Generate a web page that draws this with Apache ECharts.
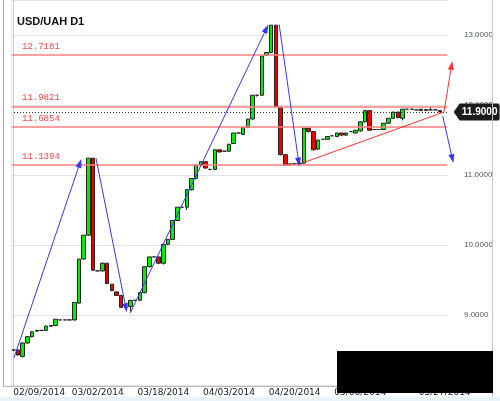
<!DOCTYPE html>
<html><head><meta charset="utf-8">
<script src="https://cdn.jsdelivr.net/npm/echarts@6/dist/echarts.min.js"></script>
<style>html,body{margin:0;padding:0;background:#fff}#c{width:500px;height:401px}</style>
</head><body><div id="c"></div>
<script>
// ---- data ----
const categories = [
 '02/09/2014','02/10/2014','02/11/2014','02/12/2014','02/13/2014','02/14/2014',
 '02/16/2014','02/17/2014','02/18/2014','02/19/2014','02/20/2014','02/21/2014',
 '02/23/2014','02/24/2014','02/25/2014','02/26/2014','02/27/2014','02/28/2014',
 '03/02/2014','03/03/2014','03/04/2014','03/05/2014','03/06/2014','03/07/2014',
 '03/09/2014','03/10/2014','03/11/2014','03/12/2014','03/13/2014','03/14/2014',
 '03/16/2014','03/17/2014','03/18/2014','03/19/2014','03/20/2014','03/21/2014',
 '03/23/2014','03/24/2014','03/25/2014','03/26/2014','03/27/2014','03/28/2014',
 '03/30/2014','03/31/2014','04/01/2014','04/02/2014','04/03/2014','04/04/2014',
 '04/06/2014','04/07/2014','04/08/2014','04/09/2014','04/10/2014','04/11/2014',
 '04/13/2014','04/14/2014','04/15/2014','04/16/2014','04/17/2014','04/18/2014',
 '04/20/2014','04/21/2014','04/22/2014','04/23/2014','04/24/2014','04/25/2014',
 '04/27/2014','04/28/2014','04/29/2014','04/30/2014','05/01/2014','05/02/2014',
 '05/04/2014','05/05/2014','05/06/2014','05/07/2014','05/08/2014','05/09/2014',
 '05/11/2014','05/12/2014','05/13/2014','05/14/2014','05/15/2014','05/16/2014',
 '05/18/2014','05/19/2014','05/20/2014','05/21/2014','05/22/2014','05/23/2014',
 '05/25/2014','05/26/2014','05/27/2014'
];
const tickLabels = ['02/09/2014','03/02/2014','03/18/2014','04/03/2014','04/20/2014','05/06/2014','05/27/2014'];

const open = [8.50,8.50,8.41,8.60,8.69,8.77,8.78,8.78,8.84,8.85,8.93,8.93,8.93,8.93,9.17,9.80,10.14,11.24,9.63,9.63,
 9.74,9.44,9.33,9.28,9.11,9.12,9.21,9.21,9.32,9.69,9.83,9.83,9.74,10.01,10.08,10.35,10.54,10.54,10.79,10.95,
 11.14,11.19,11.08,11.08,11.36,11.34,11.34,11.45,11.60,11.58,11.68,11.80,12.14,12.14,12.71,12.75,13.14,11.97,11.29,11.14,
 11.16,11.16,11.17,11.67,11.62,11.37,11.51,11.51,11.56,11.55,11.60,11.57,11.62,11.60,11.63,11.76,11.92,11.65,11.65,11.65,
 11.74,11.81,11.90,11.81,11.94,11.94,11.93,11.94,11.92,11.93,11.93,11.92];
const close = [8.50,8.43,8.60,8.69,8.76,8.78,8.78,8.84,8.85,8.94,8.93,8.93,8.93,9.18,9.80,10.14,11.24,9.64,9.63,9.74,
 9.45,9.35,9.28,9.11,9.11,9.21,9.21,9.32,9.69,9.83,9.83,9.74,10.01,10.08,10.35,10.54,10.54,10.79,10.95,11.14,
 11.19,11.10,11.08,11.36,11.33,11.34,11.44,11.60,11.60,11.68,11.80,12.14,12.14,12.70,12.75,13.14,11.98,11.29,11.14,11.16,
 11.16,11.17,11.67,11.62,11.36,11.50,11.51,11.55,11.56,11.60,11.57,11.60,11.62,11.64,11.76,11.92,11.64,11.65,11.65,11.74,
 11.81,11.90,11.82,11.94,11.94,11.94,11.93,11.92,11.935,11.93,11.93,11.90];
const low = [8.49,8.42,8.39,8.59,8.68,8.76,8.78,8.77,8.84,8.84,8.93,8.93,8.93,8.92,9.16,9.79,10.13,9.63,9.63,9.62,
 9.44,9.34,9.27,9.10,9.10,9.05,9.21,9.20,9.31,9.68,9.83,9.73,9.72,10.00,10.07,10.34,10.54,10.50,10.78,10.94,
 11.13,11.09,11.08,11.07,11.32,11.34,11.33,11.44,11.60,11.57,11.67,11.79,12.12,12.13,12.70,12.74,11.97,11.28,11.13,11.13,
 11.16,11.16,11.16,11.61,11.35,11.36,11.51,11.50,11.56,11.54,11.56,11.56,11.62,11.59,11.62,11.75,11.63,11.65,11.65,11.64,
 11.73,11.80,11.81,11.78,11.94,11.94,11.93,11.92,11.92,11.93,11.93,11.90];
const high = [8.50,8.51,8.61,8.70,8.77,8.79,8.78,8.85,8.85,8.94,8.93,8.93,8.93,9.18,9.80,10.14,11.24,11.24,9.63,9.75,
 9.74,9.44,9.33,9.28,9.11,9.21,9.21,9.32,9.69,9.83,9.83,9.83,10.01,10.08,10.35,10.54,10.54,10.79,10.95,11.14,
 11.19,11.19,11.08,11.36,11.36,11.34,11.44,11.60,11.60,11.68,11.80,12.14,12.14,12.70,12.75,13.14,13.14,11.97,11.29,11.16,
 11.16,11.17,11.67,11.67,11.62,11.50,11.51,11.55,11.56,11.60,11.60,11.60,11.62,11.64,11.76,11.92,11.92,11.65,11.65,11.74,
 11.81,11.90,11.90,11.94,11.94,11.94,11.93,11.94,11.94,11.976,11.93,11.92];

const levels = [12.7181, 11.9821, 11.6854, 11.1394];
const levelLabels = ['12.7181', '11.9821', '11.6854', '11.1394'];
const currentPrice = 11.90;
const currentPriceLabel = '11.9000';
const yMin = 8, yMax = 13.5, yStep = 1;

// overlay drawings in (bar index, price) space: [x1, y1, x2, y2]
const blueArrows = [
  [0.14, 8.39, 14.5, 11.23],
  [17.63, 11.24, 24.2, 9.04],
  [24.95, 9.03, 54.4, 13.15],
  [56.7, 13.15, 61.0, 11.12],
  [91.6, 11.84, 93.85, 11.17]
];
const redArrows = [[91.86, 11.90, 93.63, 12.63]];
const trendLines = [[61.85, 11.176, 91.86, 11.90]];

// ---- chart ----
const candleData = open.map((o, i) => [o, close[i], low[i], high[i]]);

function arrowRender(color, head) {
  return function (params, api) {
    const p1 = api.coord([api.value(0), api.value(1)]);
    const p2 = api.coord([api.value(2), api.value(3)]);
    const dx = p2[0] - p1[0], dy = p2[1] - p1[1];
    const len = Math.hypot(dx, dy) || 1;
    const ux = dx / len, uy = dy / len;
    const L = head ? 9 : 0, W = 3;
    const children = [{
      type: 'line',
      shape: { x1: p1[0], y1: p1[1], x2: p2[0] - ux * L * 0.5, y2: p2[1] - uy * L * 0.5 },
      style: { stroke: color, lineWidth: 1 }
    }];
    if (head) {
      const bx = p2[0] - ux * L, by = p2[1] - uy * L;
      children.push({
        type: 'polygon',
        shape: { points: [[p2[0], p2[1]], [bx - uy * W, by + ux * W], [bx + uy * W, by - ux * W]] },
        style: { fill: color }
      });
    }
    return { type: 'group', children };
  };
}
function overlaySeries(data, color, head) {
  return {
    type: 'custom', xAxisIndex: 1, yAxisIndex: 0, clip: false, silent: true, z: 5,
    dimensions: ['x1', 'y1', 'x2', 'y2'],
    encode: { x: [0, 2], y: [1, 3] },
    renderItem: arrowRender(color, head),
    data: data
  };
}

const chart = echarts.init(document.getElementById('c'), null, { renderer: 'canvas' });
chart.setOption({
  animation: false,
  backgroundColor: '#ffffff',
  title: {
    text: 'USD/UAH D1', left: 12, top: 11,
    textStyle: { fontFamily: 'Liberation Sans', fontSize: 11, fontWeight: 'bold', color: '#111' }
  },
  grid: { left: 11, right: 53, top: 0, bottom: 16 },
  xAxis: [{
    type: 'category', data: categories, boundaryGap: true,
    axisLine: { show: false }, axisTick: { show: false }, splitLine: { show: false },
    axisLabel: {
      interval: (i, v) => tickLabels.includes(v),
      alignMinLabel: 'left',
      fontFamily: 'DejaVu Sans', fontSize: 9, color: '#222', margin: 3
    }
  }, {
    type: 'value', min: -0.5, max: categories.length - 0.5, show: false
  }],
  yAxis: {
    type: 'value', position: 'right', offset: 12, min: yMin, max: yMax, interval: yStep,
    axisLine: { show: true, lineStyle: { color: '#c8c8c8' } },
    axisTick: { show: false },
    splitLine: { show: true, lineStyle: { color: '#e3e3e3', width: 1 } },
    axisLabel: {
      showMinLabel: false, showMaxLabel: false, margin: 5,
      fontFamily: 'Liberation Sans', fontSize: 8, color: '#4c5864',
      formatter: v => v.toFixed(4)
    }
  },
  graphic: [
    { type: 'line', shape: { x1: 3.5, y1: 0, x2: 3.5, y2: 386 }, style: { stroke: '#a9a9a9', lineWidth: 1 }, z: 10 },
    { type: 'line', shape: { x1: 11.5, y1: 0, x2: 11.5, y2: 385 }, style: { stroke: '#e8e8e8', lineWidth: 1 }, z: 10 },
    { type: 'line', shape: { x1: 3, y1: 386.5, x2: 459, y2: 386.5 }, style: { stroke: '#b9b9b9', lineWidth: 1 }, z: 10 },
    { type: 'line', shape: { x1: 492.5, y1: 0, x2: 492.5, y2: 397 }, style: { stroke: '#c4c4c4', lineWidth: 1 }, z: 10 },
    { type: 'rect', shape: { x: 0, y: 397, width: 500, height: 4 }, style: { fill: '#eaf3f9' }, z: 10 },
    { type: 'rect', shape: { x: 337, y: 351, width: 156, height: 42 }, style: { fill: '#000' }, z: 100 }
  ],
  series: [
    {
      type: 'candlestick', name: 'USD/UAH', data: candleData, barWidth: 4, z: 3,
      itemStyle: { color: '#00ee00', color0: '#ee0000', borderColor: '#222', borderColor0: '#222', borderWidth: 1 },
      markLine: {
        silent: true, symbol: ['none', 'none'], animation: false, precision: 4,
        data: levels.map((v, i) => ({
          yAxis: v, name: levelLabels[i],
          lineStyle: { color: '#ff8080', width: 1.5, type: 'solid' },
          label: {
            show: true, position: 'insideStartTop', distance: [11, 4],
            formatter: '{b}',
            fontFamily: 'Liberation Mono', fontSize: 9, color: '#ff4444'
          }
        })).concat([{
          yAxis: currentPrice,
          lineStyle: { color: '#333', width: 1, type: [1, 2] },
          label: { show: false }
        }])
      },
      markPoint: {
        silent: true, animation: false,
        symbol: 'path://M0,8 L6,0 L44,0 Q46,0 46,2 L46,14 Q46,16 44,16 L6,16 Z',
        symbolSize: [46, 17], symbolOffset: [32, 0],
        itemStyle: { color: '#1c1c1c' },
        label: {
          show: true, position: 'inside', offset: [3, 0],
          formatter: currentPriceLabel,
          color: '#fff', fontWeight: 'bold', fontFamily: 'Liberation Sans', fontSize: 10
        },
        data: [{ coord: [categories.length - 1, currentPrice] }]
      }
    },
    overlaySeries(trendLines, '#ff3030', false),
    overlaySeries(redArrows, '#ff3030', true),
    overlaySeries(blueArrows, '#3535ff', true)
  ]
});
</script>
</body></html>
